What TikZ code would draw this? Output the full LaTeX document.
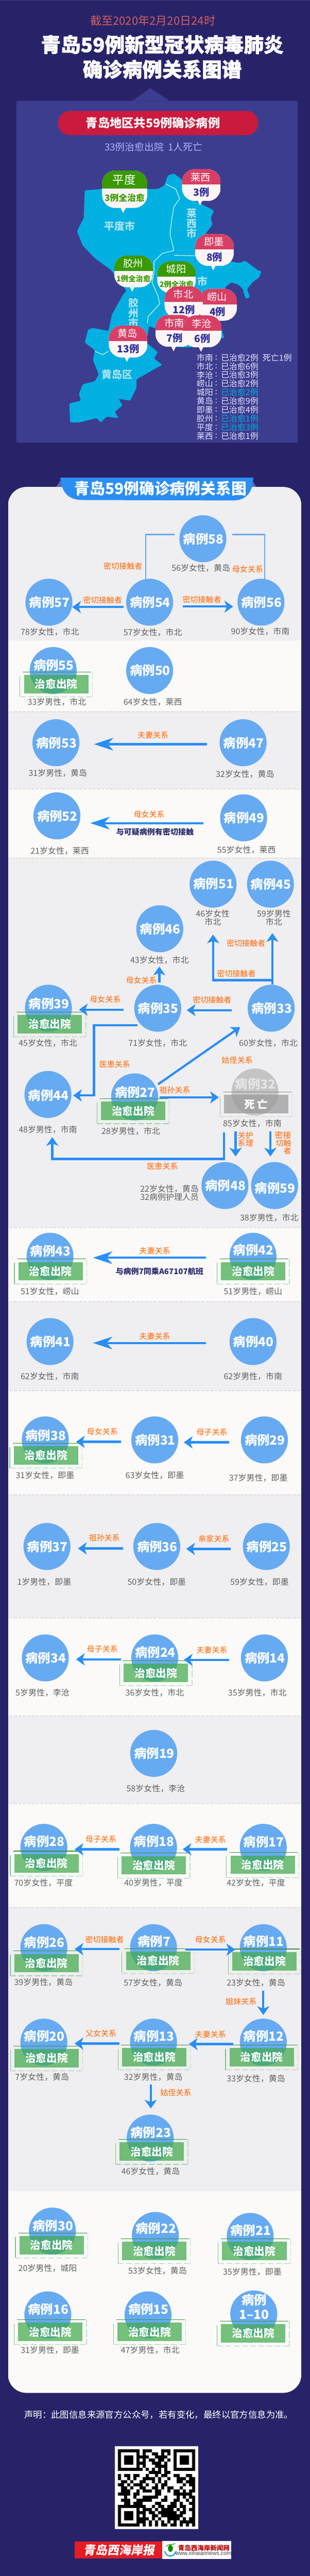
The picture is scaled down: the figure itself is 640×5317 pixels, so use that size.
\documentclass[tikz,border=0pt]{standalone}
\usepackage{fontspec}
\setmainfont{Noto Sans CJK SC}
\usetikzlibrary{positioning, arrows.meta}
\newcommand{\px}[1]{\fontsize{#1}{#1}\selectfont}
\definecolor{navybg}{HTML}{282369}
\definecolor{mappanel}{HTML}{3D3D8F}
\definecolor{mapblue}{HTML}{02B0E2}
\definecolor{pillred}{HTML}{CB1A3D}
\definecolor{ribbonblue}{HTML}{2A8EF5}
\definecolor{ballblue}{HTML}{66AAF2}
\definecolor{bandgrey}{HTML}{EFEEF0}
\definecolor{bandwhite}{HTML}{FBFAF9}
\definecolor{markred}{HTML}{D83F64}
\definecolor{markgreen}{HTML}{3A9A00}
\definecolor{countblue}{HTML}{2F2F9C}
\definecolor{stampgreen}{HTML}{41AA4C}
\definecolor{stampgrey}{HTML}{9A9A9A}
\definecolor{relorange}{HTML}{FF6600}
\definecolor{notenavy}{HTML}{2B2A6C}
\definecolor{dateline}{HTML}{D0605F}
\definecolor{maplabel}{HTML}{A9E2EF}
\definecolor{paperred}{HTML}{E21D23}
\definecolor{foldblue}{HTML}{5A68A8}
\tikzset{
caseball/.style={circle, fill=ballblue, minimum size=97pt, inner sep=0pt},
deadball/.style={circle, fill=black!23, minimum size=97pt, inner sep=0pt},
casetag/.style={text=white, font=\fontsize{26}{29}\selectfont\bfseries, inner sep=0pt, align=center, xshift=1pt},
caseinfo/.style={text=black!62, font=\px{17}, inner sep=0pt, align=center},
relation/.style={text=relorange, font=\px{16}, inner sep=0pt},
note/.style={text=notenavy, font=\px{16}\bfseries, inner sep=0pt},
titleline/.style={text=white, font=\px{41}\bfseries\addfontfeature{FakeBold=1.5}, inner sep=0pt},
stampfill/.style={rectangle, minimum width=133pt, minimum height=38pt, inner sep=0pt, fill opacity=.72, text opacity=1, text=white, font=\px{22}\bfseries},
line/.style={draw=ribbonblue, line width=4.5pt, -{Stealth[length=18pt,width=25pt,inset=5pt]}},
longline/.style={draw=ribbonblue, line width=4.5pt, -{Stealth[length=40pt,width=26pt,inset=12pt]}},
bracket/.style={draw=ballblue, line width=3pt},
maptext/.style={text=maplabel, font=\px{21}\bfseries, inner sep=0pt},
mapline/.style={draw=green!15!white, line width=1.2pt},
markname/.style={text=white, font=\px{20.5}, inner sep=0pt},
markcount/.style={text=countblue, font=\px{20.5}\bfseries, inner sep=0pt},
curedcount/.style={text=markgreen, font=\px{15.3}\bfseries, inner sep=0pt},
listitem/.style={text=white!90!blue, font=\px{17}, inner sep=0pt, anchor=west}
}
% case ball with its tag: id, position, tag, lift of the tag
\newcommand{\casenode}[4]{\node[caseball, label={[casetag, name=tag#1, yshift=#4pt]center:{#3}}] (c#1) at (#2) {};}
% stamp over a ball: id, position, text
\newcommand{\stampbox}[4][stampgreen]{%
  \node[stampfill, fill=#1] (s#2) at (#3) {#4};
  \draw[#1!85!black, line width=1.2pt] ([xshift=-2pt,yshift=6pt]s#2.north west) -- ([xshift=6pt,yshift=6pt]s#2.north east);
  \draw[#1!70!white, line width=1.3pt] ([xshift=-8pt,yshift=-2pt]s#2.north west) -- ([xshift=-8pt,yshift=-7pt]s#2.south west);
  \draw[#1!50!white, line width=1.3pt, dash pattern=on 12pt off 5pt] ([xshift=-8pt,yshift=-7pt]s#2.south west) -- ([xshift=8pt,yshift=-7pt]s#2.south east);
  \draw[#1!35!white, line width=1.3pt, dash pattern=on 16pt off 4pt] ([xshift=8pt,yshift=6pt]s#2.north east) -- ([xshift=8pt,yshift=-7pt]s#2.south east);
}
% balloon on the map: [scale] id, centre x, top, head colour, place, count, count style
\newcommand{\mapmark}[8][1]{%
  \begin{scope}[shift={(#3,#4)},scale=#1,transform shape]
    \fill[white!96!red] (-9,62) -- (-2.7,75) -- (4,62) -- cycle;
    \begin{scope}
      \clip[rounded corners=27pt] (-40,0) rectangle (40,66);
      \fill[white!96!red] (-40,0) rectangle (40,66);
      \fill[#5] (-40,0) rectangle (40,32);
    \end{scope}
    \node[markname] (m#2) at (-1,16.5) {#6};
    \node[#8] (n#2) at (0,48) {#7};
  \end{scope}}
\begin{document}
\begin{tikzpicture}[x=1pt,y=-1pt]
\useasboundingbox (0,0) rectangle (640,5317);
\fill[navybg] (0,0) rectangle (640,5317);
\fill[mappanel] (0,0) rectangle (640,1);

% heading
\node[text=dateline, font=\px{23.5}, inner sep=0pt] (datetext) at (315.5,43) {截至2020年2月20日24时};
\node[titleline] (titleone) at (335,92) {青岛59例新型冠状病毒肺炎};
\node[titleline] (titletwo) at (335,143) {确诊病例关系图谱};

% map panel
\fill[mappanel] (273.5,208) -- (310,182) -- (350,208) -- cycle;
\fill[mappanel] (34,208) rectangle (615,913);
\node[rectangle, rounded corners=24pt, fill=pillred, minimum width=413pt, minimum height=50pt, inner sep=0pt] (pill) at (326.5,254) {};
\node[text=white, font=\px{24.7}\bfseries, inner sep=0pt] (pilltext) at (316,254) {青岛地区共59例确诊病例};
\node[text=white!70!blue, font=\px{20}, inner sep=0pt] (summary) at (317,303) {33例治愈出院\ \ 1人死亡};

\fill[mapblue, rounded corners=2pt] (347,362) -- (359,358) -- (375,370) -- (378,400) -- (408,417) -- (433,430) -- (442,435) -- (435,450) -- (439,463) -- (424,483) -- (440,520) -- (478,540) -- (494,543) -- (506,538) -- (518,547) -- (531,557) -- (540,560) -- (535,573) -- (522,582) -- (510,597) -- (516,613) -- (508,617) -- (504,607) -- (502,597) -- (492,587) -- (477,583) -- (465,593) -- (458,640) -- (453,663) -- (463,698) -- (445,697) -- (392,717) -- (360,716) -- (326,680) -- (308,673) -- (302,707) -- (326,727) -- (318,740) -- (335,753) -- (322,760) -- (282,783) -- (282,800) -- (269,827) -- (245,823) -- (253,837) -- (237,850) -- (245,863) -- (220,860) -- (208,872) -- (200,863) -- (163,872) -- (145,872) -- (143,833) -- (167,827) -- (163,813) -- (171,793) -- (196,787) -- (204,773) -- (192,743) -- (196,723) -- (175,707) -- (182,680) -- (192,677) -- (224,683) -- (231,650) -- (253,610) -- (261,600) -- (229,557) -- (196,533) -- (171,507) -- (159,477) -- (173,450) -- (175,393) -- (212,390) -- (326,390) -- (339,383) -- cycle;
\draw[mapline] (343,380) -- (363,390) -- (371,410) -- (359,427) -- (355,450) -- (351,483) -- (359,517) -- (335,523) -- (318,540) -- (318,563) -- (314,583) -- (326,610) -- (330,627) -- (306,653) -- (304,667);
\draw[mapline] (359,527) -- (404,528);
\draw[mapline] (196,725) -- (212,732) -- (224,725);
\node[maptext] (pingdu) at (247,467) {平度市};
\node[maptext, align=center] (laixi) at (396,461) {\fontsize{21}{22}\selectfont 莱\\西\\市};
\node[maptext, align=center] (jiaozhou) at (275.5,646) {\fontsize{21}{21}\selectfont 胶\\州\\市};
\node[maptext] (huangdao) at (242,773) {黄岛区};
\node[maptext] (jimo) at (418,580) {市};

\mapmark{lx}{415.7}{349}{markred}{莱西}{3例}{markcount}
\mapmark[1.17]{pd}{257.5}{352}{markgreen}{平度}{3例全治愈}{curedcount}
\mapmark{jm}{443}{483}{markred}{即墨}{8例}{markcount}
\mapmark{jz}{275.7}{527}{markgreen}{胶州}{1例全治愈}{curedcount}
\mapmark{cy}{364.7}{539}{markgreen}{城阳}{2例全治愈}{curedcount}
\mapmark{ls}{449.5}{596}{markred}{崂山}{4例}{markcount}
\mapmark{sb}{379.7}{591}{markred}{市北}{12例}{markcount}
\mapmark{sn}{361}{650}{markred}{市南}{7例}{markcount}
\mapmark{lc}{417.7}{651}{markred}{李沧}{6例}{markcount}
\mapmark{hd}{264.7}{672}{markred}{黄岛}{13例}{markcount}

\foreach \place/\state/\tone [count=\i] in {市南/已治愈2例/white!90!blue, 市北/已治愈6例/white!90!blue, 李沧/已治愈3例/white!90!blue, 崂山/已治愈2例/white!90!blue, 城阳/已治愈2例/mapblue, 黄岛/已治愈9例/white!90!blue, 即墨/已治愈4例/white!90!blue, 胶州/已治愈1例/mapblue, 平度/已治愈3例/mapblue, 莱西/已治愈1例/white!90!blue}{
  \node[listitem] (place\i) at (406,720+18*\i) {\place};
  \node[listitem] (colon\i) at (444,720+18*\i) {:};
  \node[listitem, text=\tone] (state\i) at (456,720+18*\i) {\state};
}
\node[listitem] (death) at (542,738) {死亡1例};

% relation panel
\begin{scope}
  \clip[rounded corners=38pt] (16.5,1005) rectangle (622.5,4939);
  \foreach \top/\bot/\tone in {1005/1322/bandgrey, 1322/1469/bandwhite, 1469/1628/bandgrey, 1628/1771/bandwhite, 1771/2533/bandgrey, 2533/2687/bandwhite, 2687/2870/bandgrey, 2870/3085/bandwhite, 3085/3339/bandgrey, 3339/3542/bandwhite, 3542/3722/bandgrey, 3722/3937/bandwhite, 3937/4523/bandgrey, 4523/4939/bandwhite}
    \fill[\tone] (16.5,\top) rectangle (622.5,\bot);
\end{scope}
\foreach \y in {1469,1628,1771,2533,2687,2870,3085,3339,3542,3722,3937}
  \draw[black!22, line width=.8pt, dash pattern=on 6pt off 3pt] (20,\y) -- (620,\y);

\fill[foldblue] (116,1005) -- (124.5,992) -- (130,1005) -- cycle;
\fill[foldblue] (529,1005) -- (523,995) -- (516,1005) -- cycle;
\fill[ribbonblue] (124.5,986) -- (523,986) .. controls (522,1015) and (510,1033) .. (480,1033) -- (170,1032) .. controls (140,1032) and (127,1015) .. (124.5,986);
\node[text=white, font=\px{31.7}\bfseries, inner sep=0pt] (ribbontext) at (331.5,1008) {青岛59例确诊病例关系图};

% balls
\casenode{58}{419,1112}{病例58}{0}
\casenode{57}{101,1243}{病例57}{0}
\casenode{54}{309,1243}{病例54}{0}
\casenode{56}{539,1243}{病例56}{0}
\casenode{55}{110,1384}{病例55}{11}
\stampbox{55}{116,1412}{治愈出院}
\casenode{50}{309,1384}{病例50}{0}
\casenode{53}{115.5,1533}{病例53}{0}
\casenode{47}{502,1533}{病例47}{0}
\casenode{52}{117.5,1684}{病例52}{0}
\casenode{49}{503,1688}{病例49}{0}
\casenode{51}{440,1825}{病例51}{1}
\casenode{45}{558.5,1825}{病例45}{0}
\casenode{46}{330,1917}{病例46}{0}
\casenode{35}{325.7,2081}{病例35}{0}
\casenode{33}{560,2081}{病例33}{0}
\casenode{39}{100,2081}{病例39}{9}
\stampbox{39}{103,2114}{治愈出院}
\casenode{44}{99,2259}{病例44}{-2}
\casenode{27}{278,2264}{病例27}{9}
\stampbox{27}{275,2293}{治愈出院}
\node[deadball, label={[casetag, name=tag32, text=black!10, yshift=17pt]center:{病例32}}] (c32) at (526.5,2254) {};
\stampbox[stampgrey]{32}{529,2279}{死\ 亡}
\casenode{48}{464.5,2447}{病例48}{0}
\casenode{59}{567,2447}{病例59}{-5}
\casenode{43}{103.3,2593}{病例43}{11}
\stampbox{43}{104.5,2624}{治愈出院}
\casenode{42}{522.5,2593}{病例42}{13}
\stampbox{42}{523,2624}{治愈出院}
\casenode{41}{103.3,2769}{病例41}{0}
\casenode{40}{522.5,2769}{病例40}{0}
\casenode{38}{93.5,2972}{病例38}{9}
\stampbox{38}{95,3004}{治愈出院}
\casenode{31}{319.6,2972}{病例31}{0}
\casenode{29}{546,2972}{病例29}{0}
\casenode{37}{97,3192}{病例37}{0}
\casenode{36}{323.7,3192}{病例36}{0}
\casenode{25}{550,3192}{病例25}{0}
\casenode{34}{93.5,3422}{病例34}{0}
\casenode{24}{319.6,3422}{病例24}{12}
\stampbox{24}{322,3453}{治愈出院}
\casenode{14}{546,3422}{病例14}{0}
\casenode{19}{317.5,3619}{病例19}{0}
\casenode{28}{90.6,3813}{病例28}{12}
\stampbox{28}{96,3846}{治愈出院}
\casenode{18}{317,3813}{病例18}{12}
\stampbox{18}{317.6,3850}{治愈出院}
\casenode{17}{543.7,3813}{病例17}{11}
\stampbox{17}{542.4,3849}{治愈出院}
\casenode{26}{90.6,4020}{病例26}{11}
\stampbox{26}{96,4052}{治愈出院}
\casenode{7}{317,4020}{病例7}{13}
\stampbox{7}{326.5,4047}{治愈出院}
\casenode{11}{543.7,4020}{病例11}{13}
\stampbox{11}{546,4048}{治愈出院}
\casenode{20}{90.6,4215}{病例20}{12}
\stampbox{20}{96.3,4248}{治愈出院}
\casenode{13}{317,4215}{病例13}{12}
\stampbox{13}{318.4,4246}{治愈出院}
\casenode{12}{543.7,4215}{病例12}{12}
\stampbox{12}{540.4,4246}{治愈出院}
\casenode{23}{310.2,4413}{病例23}{12}
\stampbox{23}{313.5,4441}{治愈出院}
\casenode{30}{108.2,4605}{病例30}{11}
\stampbox{30}{106.5,4634}{治愈出院}
\casenode{22}{320.8,4614}{病例22}{15}
\stampbox{22}{318.4,4646}{治愈出院}
\casenode{21}{516.7,4616}{病例21}{12}
\stampbox{21}{525.3,4646}{治愈出院}
\casenode{16}{98.8,4778}{病例16}{12}
\stampbox{16}{104,4813}{治愈出院}
\casenode{15}{305.7,4778}{病例15}{12}
\stampbox{15}{309,4813}{治愈出院}
\casenode{1}{524,4776}{病例\\1–10}{15}
\stampbox{1}{523,4816}{治愈出院}

% connectors
\draw[bracket, shorten <=58pt, shorten >=47pt] ([yshift=9pt]c58.center) -| ([xshift=-8pt]c54.center);
\draw[bracket, shorten <=61pt, shorten >=47pt] ([yshift=9pt]c58.center) -| ([xshift=7.5pt]c56.center);
\draw[line, shorten <=54pt, shorten >=48pt] ([yshift=-10pt]c54.center) -- ([yshift=-10pt]c57.center);
\draw[line, shorten <=69pt, shorten >=57.5pt] ([yshift=-9pt]c54.center) -- ([yshift=-9pt]c56.center);
\draw[longline, shorten <=74pt, shorten >=78.5pt] ([yshift=-3pt]c47.center) -- ([yshift=-3pt]c53.center);
\draw[longline, shorten <=83pt, shorten >=69pt] ([yshift=-11pt]c49.center) -- ([yshift=-15pt]c52.center);
\draw[line, shorten <=53pt, shorten >=78pt] ([xshift=3.3pt]c35.center) -- ([xshift=-1pt]c46.center);
\draw[line, shorten <=49pt, shorten >=101pt] ([xshift=2.5pt]c33.center) -- ([xshift=4pt]c45.center);
\coordinate (fork) at (562.5,2023);
\draw[line, shorten >=104pt] (fork) -| (c51.center);
\draw[line, shorten <=82pt, shorten >=60pt] ([yshift=-4pt]c33.center) -- ([yshift=-4pt]c35.center);
\draw[line, shorten <=70pt, shorten >=63pt] ([yshift=-3pt]c35.center) -- ([yshift=-3pt]c39.center);
\draw[line] ([xshift=48.5pt,yshift=26pt]c27.center) -- ([xshift=-64pt,yshift=-39pt]c33.center);
\coordinate (turnone) at (194,2261);
\draw[line, shorten <=42pt, shorten >=52pt] ([yshift=-35pt]c35.center) -| (turnone) -- ([yshift=-2pt]c44.center);
\draw[line, shorten <=52pt, shorten >=74.5pt] ([yshift=-1pt]c27.center) -- ([yshift=-11pt]c32.center);
\coordinate (turntwo) at (108,2392);
\draw[line, shorten <=83pt, shorten >=88pt] ([xshift=-64.1pt]c32.center) |- (turntwo) -- ([xshift=9pt]c44.center);
\draw[line, shorten <=81pt, shorten >=60pt] ([xshift=-40pt]c32.center) -- ([xshift=22pt]c48.center);
\draw[line, shorten <=81pt, shorten >=60pt] ([xshift=31.9pt]c32.center) -- ([xshift=-8.6pt]c59.center);
\draw[longline, shorten <=97pt, shorten >=88.7pt] ([yshift=-3pt]c42.center) -- ([yshift=-3pt]c43.center);
\draw[longline, shorten <=97pt, shorten >=88.7pt] ([yshift=-3pt]c40.center) -- ([yshift=-3pt]c41.center);
\draw[line, shorten <=69.6pt, shorten >=63.5pt] ([yshift=-4pt]c31.center) -- ([yshift=-4pt]c38.center);
\draw[line, shorten <=73.3pt, shorten >=60pt] ([yshift=-5pt]c29.center) -- ([yshift=-5pt]c31.center);
\draw[line, shorten <=69.7pt, shorten >=64pt] ([yshift=-4pt]c36.center) -- ([yshift=-4pt]c37.center);
\draw[line, shorten <=73.3pt, shorten >=60.8pt] ([yshift=-5pt]c25.center) -- ([yshift=-5pt]c36.center);
\draw[line, shorten <=69.6pt, shorten >=63.5pt] ([yshift=-3pt]c24.center) -- ([yshift=-3pt]c34.center);
\draw[line, shorten <=73.3pt, shorten >=60pt] ([yshift=-4pt]c14.center) -- ([yshift=-4pt]c24.center);
\draw[line, shorten <=70.5pt, shorten >=63.4pt] ([yshift=-4pt]c18.center) -- ([yshift=-4pt]c28.center);
\draw[line, shorten <=74.3pt, shorten >=60pt] ([yshift=-4pt]c17.center) -- ([yshift=-4pt]c18.center);
\draw[line, shorten <=70.5pt, shorten >=63.4pt] ([yshift=-3pt]c7.center) -- ([yshift=-3pt]c26.center);
\draw[line, shorten <=65.4pt, shorten >=58pt] ([yshift=-4pt]c7.center) -- ([yshift=-4pt]c11.center);
\draw[line, shorten <=89pt, shorten >=56pt] (c11.center) -- (c12.center);
\draw[line, shorten <=70.5pt, shorten >=63.4pt] ([yshift=-3pt]c13.center) -- ([yshift=-3pt]c20.center);
\draw[line, shorten <=62.1pt, shorten >=73pt] ([yshift=-4pt]c12.center) -- ([yshift=-4pt]c13.center);
\draw[line, shorten <=87pt, shorten >=61pt] ([xshift=-5.6pt]c13.center) -- ([xshift=1.2pt]c23.center);

% relation texts
\node[relation] (r1) at (254,1168) {密切接触者};
\node[relation] (r2) at (511.5,1175) {母女关系};
\node[relation] (r3) at (212,1239) {密切接触者};
\node[relation] (r4) at (417,1237) {密切接触者};
\node[relation] (r5) at (316,1517) {夫妻关系};
\node[relation] (r6) at (308,1681) {母女关系};
\node[note] (n1) at (320,1717) {与可疑病例有密切接触};
\node[relation] (r7) at (508,1947) {密切接触者};
\node[relation] (r8) at (488,2009) {密切接触者};
\node[relation] (r9) at (292,2023) {母女关系};
\node[relation] (r10) at (217.5,2063) {母女关系};
\node[relation] (r11) at (438,2064) {密切接触者};
\node[relation] (r12) at (237,2197) {医患关系};
\node[relation] (r13) at (490,2188) {姑侄关系};
\node[relation] (r14) at (361,2250) {祖孙关系};
\node[relation, align=center] (r15) at (507,2351) {\fontsize{16}{17}\selectfont 关护\\系理};
\node[relation, align=right] (r16) at (584.5,2359) {\fontsize{17}{16.5}\selectfont 密接\\切触\\者};
\node[relation] (r17) at (335.5,2407) {医患关系};
\node[relation] (r18) at (319.6,2582) {夫妻关系};
\node[note] (n2) at (329.4,2624) {与病例7同乘A67107航班};
\node[relation] (r19) at (319.6,2758) {夫妻关系};
\node[relation] (r20) at (211.4,2955) {母女关系};
\node[relation] (r21) at (437.6,2956) {母子关系};
\node[relation] (r22) at (215.5,3174) {祖孙关系};
\node[relation] (r23) at (441.6,3176) {亲家关系};
\node[relation] (r24) at (211.4,3404) {母子关系};
\node[relation] (r25) at (437.6,3406) {夫妻关系};
\node[relation] (r26) at (208.6,3796) {母子关系};
\node[relation] (r27) at (434.7,3797) {夫妻关系};
\node[relation] (r28) at (216,4003) {密切接触者};
\node[relation] (r29) at (434.7,4003) {母女关系};
\node[relation] (r30) at (498,4131) {姐妹关系};
\node[relation] (r31) at (208.6,4197) {父女关系};
\node[relation] (r32) at (434.7,4199) {夫妻关系};
\node[relation] (r33) at (363.3,4319) {姑侄关系};

% case texts
\node[caseinfo] (i58) at (415,1172) {56岁女性，黄岛};
\node[caseinfo] (i57) at (103,1304) {78岁女性，市北};
\node[caseinfo] (i54) at (315.5,1305) {57岁女性，市北};
\node[caseinfo] (i56) at (537.5,1303) {90岁女性，市南};
\node[caseinfo] (i55) at (117.5,1449) {33岁男性，市北};
\node[caseinfo] (i50) at (315.5,1449) {64岁女性，莱西};
\node[caseinfo] (i53) at (119.5,1596) {31岁男性，黄岛};
\node[caseinfo] (i47) at (506,1598) {32岁女性，黄岛};
\node[caseinfo] (i52) at (123.5,1756) {21岁女性，莱西};
\node[caseinfo] (i49) at (509,1754) {55岁女性，莱西};
\node[caseinfo] (i51) at (439.5,1894) {\fontsize{17}{17}\selectfont 46岁女性\\市北};
\node[caseinfo] (i45) at (565.7,1894) {\fontsize{17}{17}\selectfont 59岁男性\\市北};
\node[caseinfo] (i46) at (329.5,1982) {43岁女性，市北};
\node[caseinfo] (i35) at (325.7,2153) {71岁女性，市北};
\node[caseinfo] (i33) at (554,2153) {60岁女性，市北};
\node[caseinfo] (i39) at (99,2153) {45岁女性，市北};
\node[caseinfo] (i32) at (521,2319) {85岁女性，市南};
\node[caseinfo] (i44) at (99,2332) {48岁男性，市南};
\node[caseinfo] (i27) at (270,2335) {28岁男性，市北};
\node[caseinfo] (i48) at (350,2462) {\fontsize{17}{22}\selectfont 22岁女性，黄岛\\32病例护理人员};
\node[caseinfo] (i59) at (556,2513) {38岁男性，市北};
\node[caseinfo] (i43) at (103,2665) {51岁女性，崂山};
\node[caseinfo] (i42) at (522.5,2665) {51岁男性，崂山};
\node[caseinfo] (i41) at (103,2841) {62岁女性，市南};
\node[caseinfo] (i40) at (522.5,2841) {62岁男性，市南};
\node[caseinfo] (i38) at (93,3045) {31岁女性，即墨};
\node[caseinfo] (i31) at (319.6,3045) {63岁女性，即墨};
\node[caseinfo] (i29) at (533.5,3050) {37岁男性，即墨};
\node[caseinfo] (i37) at (91.4,3265) {1岁男性，即墨};
\node[caseinfo] (i36) at (323.7,3265) {50岁女性，即墨};
\node[caseinfo] (i25) at (536,3265) {59岁女性，即墨};
\node[caseinfo] (i34) at (87.8,3494) {5岁男性，李沧};
\node[caseinfo] (i24) at (319.6,3494) {36岁女性，市北};
\node[caseinfo] (i14) at (531.4,3494) {35岁男性，市北};
\node[caseinfo] (i19) at (321.6,3692) {58岁女性，李沧};
\node[caseinfo] (i28) at (89.8,3886) {70岁女性，平度};
\node[caseinfo] (i18) at (317,3886) {40岁男性，平度};
\node[caseinfo] (i17) at (528.6,3886) {42岁女性，平度};
\node[caseinfo] (i26) at (89.8,4092) {39岁男性，黄岛};
\node[caseinfo] (i7) at (316,4092) {57岁女性，黄岛};
\node[caseinfo] (i11) at (528.6,4092) {23岁女性，黄岛};
\node[caseinfo] (i20) at (87,4287) {7岁女性，黄岛};
\node[caseinfo] (i13) at (316.7,4287) {32岁男性，黄岛};
\node[caseinfo] (i12) at (528.6,4290) {33岁女性，黄岛};
\node[caseinfo] (i23) at (311,4482) {46岁女性，黄岛};
\node[caseinfo] (i30) at (98.4,4682) {20岁男性，城阳};
\node[caseinfo] (i22) at (325.3,4687) {53岁女性，黄岛};
\node[caseinfo] (i21) at (521,4689) {35岁男性，即墨};
\node[caseinfo] (i16) at (103.3,4851) {31岁男性，即墨};
\node[caseinfo] (i15) at (310.2,4851) {47岁男性，市北};

% footer
\node[text=white, font=\px{18.5}, inner sep=0pt] (statement) at (327.8,4984) {声明：此图信息来源官方公众号，若有变化，最终以官方信息为准。};
\fill[white] (237,5049) rectangle (409,5220);
\begin{scope}[shift={(243.7,5055.7)},x=6.37pt,y=-6.37pt]
  \foreach \fx/\fy in {0/0,18/0,0/18}{
    \draw[black, line width=6.37pt] (\fx+.5,\fy+.5) rectangle (\fx+6.5,\fy+6.5);
    \fill[black] (\fx+2,\fy+2) rectangle (\fx+5,\fy+5);
  }
  \foreach \r/\cells in {0/{8,9,10,14,15,16},1/{8,11,12,14,16},2/{7,8,9,12,13,14,15},3/{8,10,11,13,14,16},4/{7,8,11,12,13,15},5/{8,12,13,14,15},6/{7,9,11,13,15},7/{10,11,12,13,15,16},8/{0,2,3,5,6,9,12,14,15,18,19,22,23},9/{0,3,5,8,9,10,11,13,16,19,20,21,23,24},10/{1,2,4,7,8,11,13,15,19,20,22,23,24},11/{0,1,3,5,6,7,9,12,14,15,21,23,24},12/{1,2,4,7,8,11,12,14,16,17,20,24},13/{1,2,3,6,8,9,10,12,13,16,18,19,21,23,24},14/{0,1,2,3,5,6,12,13,18,19,20,21,22,23},15/{2,5,8,9,10,11,12,15,19,21,23,24},16/{1,2,3,6,7,8,9,10,14,15,18,19,22,24},17/{2,3,5,6,7,12,13,17,18,20,23,24},18/{7,8,11,13,14,16,17,18,20,21,24},19/{8,9,10,12,14,15,16,17,19,21,23,24},20/{7,8,10,11,13,14,15,16,17,18,20,21,24},21/{8,11,12,14,15,16,17,18,19,20,24},22/{7,8,9,11,13,16,17,18,19,21,23,24},23/{7,8,10,12,14,16,18,20,21,22,23,24},24/{8,10,12,14,15,17,18,20,22,24}}
    \foreach \c in \cells
      \fill[black] (\c,\r) rectangle (\c+1,\r+1);
\end{scope}
\fill[paperred] (154,5246) rectangle (335,5281);
\fill[white] (335,5245) rectangle (477.5,5282);
\node[text=white, font=\px{24.5}\bfseries\addfontfeature{FakeSlant=.15}, inner sep=0pt] (paper) at (246,5263) {青岛西海岸报};
\node[text=red!75!black, font=\px{13.3}\bfseries, inner sep=0pt] (site) at (421,5259) {青岛西海岸新闻网};
\node[text=black!75, font=\fontspec{Liberation Sans}\px{11.5}, inner sep=0pt] (siteurl) at (420,5270) {www.xihaiannews.com};
\fill[green!55!black] (352,5260) ellipse (5pt and 7pt);
\draw[green!55!black, line width=1.3pt] (343,5256) .. controls (348,5250) and (356,5253) .. (362,5250);
\draw[blue!30!cyan!80!black, line width=2pt] (340,5266) .. controls (344,5279) and (358,5279) .. (364,5266);
\end{tikzpicture}
\end{document}
